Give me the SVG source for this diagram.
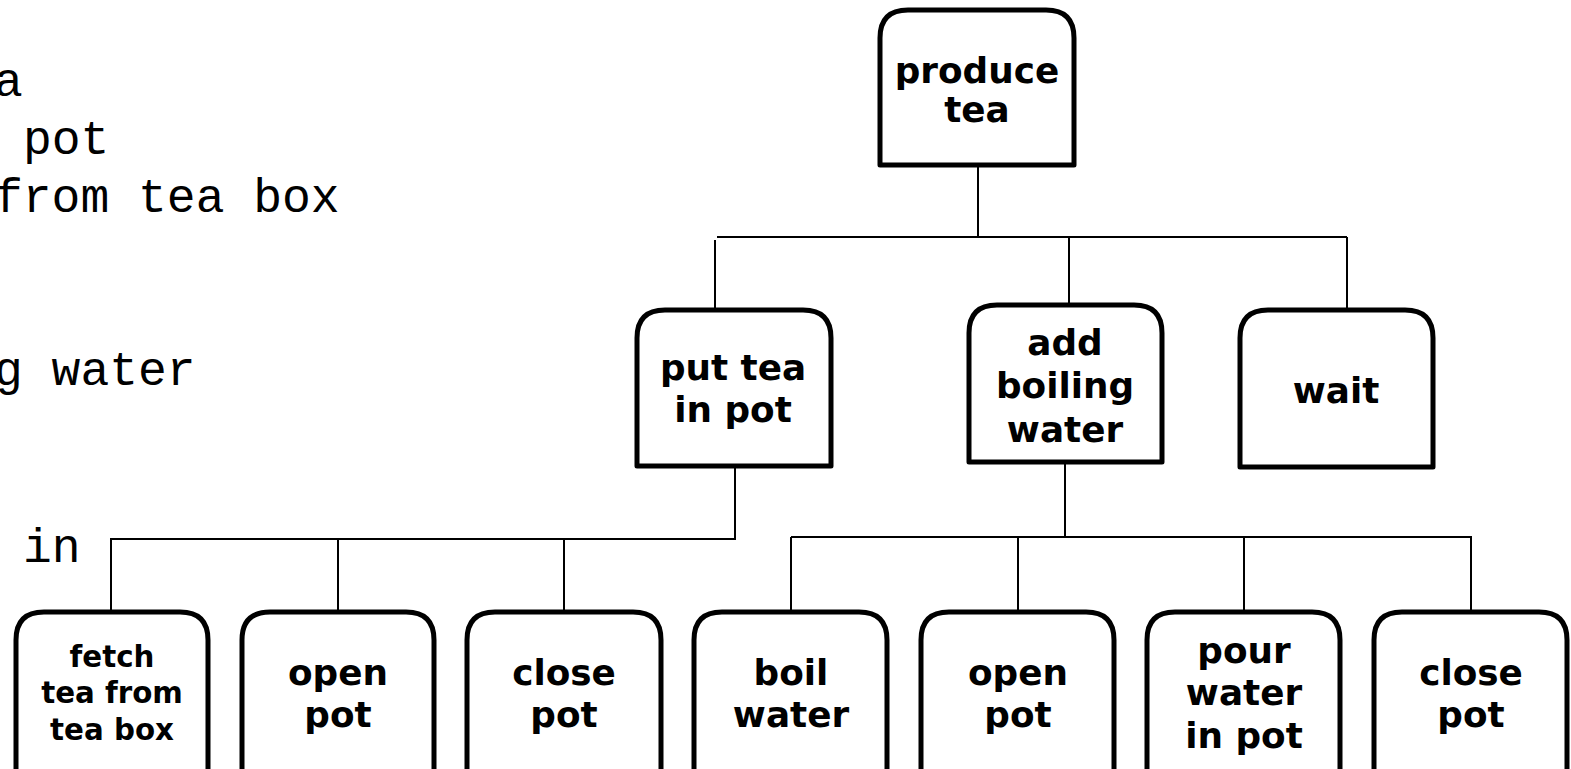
<svg xmlns="http://www.w3.org/2000/svg" width="1571" height="769" viewBox="0 0 1571 769">
<style>
.box{fill:#fff;stroke:#000;stroke-width:5;stroke-linejoin:round}
.lbl{font-family:"DejaVu Sans","Verdana",sans-serif;font-weight:bold;font-size:35.8px;fill:#000;text-anchor:middle}
.sm{font-size:29.3px}
.code{font-family:"Liberation Mono","Courier New",monospace;font-size:48px;fill:#000}
#connectors path{fill:none;stroke:#000;stroke-width:2}
</style>
<rect width="1571" height="769" fill="#fff"/>
<g id="code">
<text class="code" x="-6" y="96">a</text>
<text class="code" x="23" y="154">pot</text>
<text class="code" x="-6" y="212">from tea box</text>
<text class="code" x="-6" y="385">g water</text>
<text class="code" x="23" y="562">in</text>
</g>
<g id="connectors">
<path d="M978 166V237M717 237H1347M715 240V310M1069 237V305M1347 237V310"/>
<path d="M735 466V539H111V612M338 539V612M564 539V612"/>
<path d="M1065 462V537M791 537H1471V612M791 537V612M1018 537V612M1244 537V612"/>
</g>
<g id="n-produce">
<path class="box" d="M880 165V38Q880 10 908 10H1046Q1074 10 1074 38V165Z"/>
<text class="lbl" x="977" y="83">produce</text>
<text class="lbl" x="977" y="122">tea</text>
</g>
<g id="n-puttea">
<path class="box" d="M637 466V338Q637 310 665 310H803Q831 310 831 338V466Z"/>
<text class="lbl" x="733" y="380">put tea</text>
<text class="lbl" x="733" y="422">in pot</text>
</g>
<g id="n-addwater">
<path class="box" d="M969 462V333Q969 305 997 305H1134Q1162 305 1162 333V462Z"/>
<text class="lbl" x="1065" y="355">add</text>
<text class="lbl" x="1065" y="398">boiling</text>
<text class="lbl" x="1065" y="442">water</text>
</g>
<g id="n-wait">
<path class="box" d="M1240 467V338Q1240 310 1268 310H1405Q1433 310 1433 338V467Z"/>
<text class="lbl" x="1336" y="403">wait</text>
</g>
<g id="n-fetch">
<path class="box" d="M16 790V640Q16 612 44 612H180Q208 612 208 640V790"/>
<text class="lbl sm" x="112" y="667">fetch</text>
<text class="lbl sm" x="112" y="703">tea from</text>
<text class="lbl sm" x="112" y="740">tea box</text>
</g>
<g id="n-open1">
<path class="box" d="M242 790V640Q242 612 270 612H406Q434 612 434 640V790"/>
<text class="lbl" x="338" y="685">open</text>
<text class="lbl" x="338" y="727">pot</text>
</g>
<g id="n-close1">
<path class="box" d="M467 790V640Q467 612 495 612H633Q661 612 661 640V790"/>
<text class="lbl" x="564" y="685">close</text>
<text class="lbl" x="564" y="727">pot</text>
</g>
<g id="n-boil">
<path class="box" d="M694 790V640Q694 612 722 612H859Q887 612 887 640V790"/>
<text class="lbl" x="791" y="685">boil</text>
<text class="lbl" x="791" y="727">water</text>
</g>
<g id="n-open2">
<path class="box" d="M921 790V640Q921 612 949 612H1086Q1114 612 1114 640V790"/>
<text class="lbl" x="1018" y="685">open</text>
<text class="lbl" x="1018" y="727">pot</text>
</g>
<g id="n-pour">
<path class="box" d="M1147 790V640Q1147 612 1175 612H1312Q1340 612 1340 640V790"/>
<text class="lbl" x="1244" y="663">pour</text>
<text class="lbl" x="1244" y="705">water</text>
<text class="lbl" x="1244" y="748">in pot</text>
</g>
<g id="n-close2">
<path class="box" d="M1374 790V640Q1374 612 1402 612H1539Q1567 612 1567 640V790"/>
<text class="lbl" x="1471" y="685">close</text>
<text class="lbl" x="1471" y="727">pot</text>
</g>
</svg>
